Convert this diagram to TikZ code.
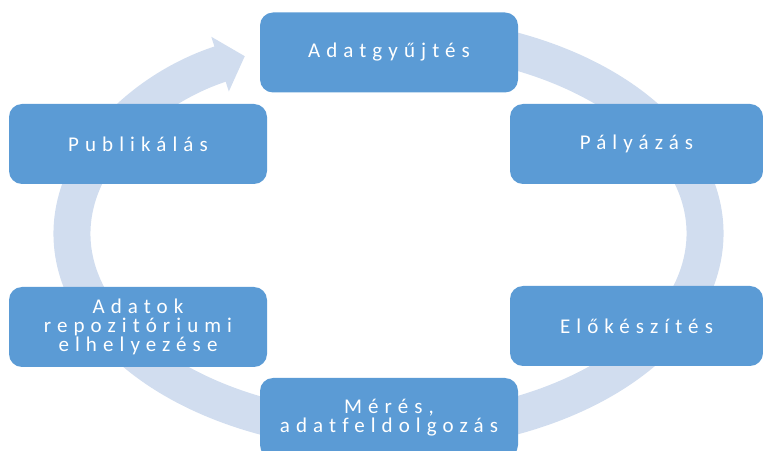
\documentclass[tikz,border=0pt]{standalone}
\usepackage{fontspec}
\setmainfont{Carlito}[LetterSpace=29,Ligatures=NoCommon]
\usetikzlibrary{arrows.meta}
\definecolor{boxblue}{HTML}{5B9BD5}
\definecolor{ringblue}{HTML}{D1DDEF}
\tikzset{
  stagebox/.style={fill=boxblue, draw=none, rounded corners=13pt, minimum width=258pt,
    minimum height=80pt, text=white, align=center, inner sep=0pt,
    font=\fontsize{21}{19}\selectfont},
  ringline/.style={draw=ringblue, line width=37pt,
    -{Triangle[length=26pt, width=56pt]}}
}
\begin{document}
\begin{tikzpicture}[x=1pt,y=1pt]
\useasboundingbox (0,0) rectangle (763,450);
\clip (0,0) rectangle (763,450);
\coordinate (c) at (388.5,216.5);
\draw[ringline] ([shift={(80:316.5 and 199)}]c) arc[start angle=80, end angle=-243, x radius=316.5, y radius=199];
\node[stagebox] (a) at (389,397.5) {Adatgyűjtés};
\node[stagebox, minimum width=253pt] (b) at (636.5,306) {Pályázás};
\node[stagebox, minimum width=253pt] (c2) at (636.5,124) {Előkészítés};
\node[stagebox] (d) at (389,32) {Mérés,\\adatfeldolgozás};
\node[stagebox] (e) at (138,123) {Adatok\\repozitóriumi\\elhelyezése};
\node[stagebox] (f) at (138,306) {Publikálás};
\end{tikzpicture}
\end{document}
